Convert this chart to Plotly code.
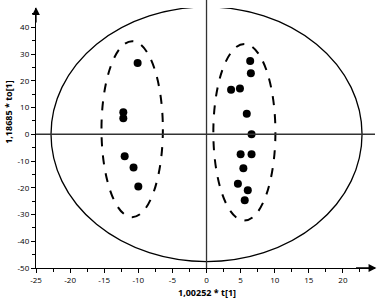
import plotly.graph_objects as go

# Scores
left_x = [-10.1, -12.2, -12.2, -12.0, -10.7, -10.0]
left_y = [26.6, 8.2, 6.0, -8.2, -12.4, -19.5]
right_x = [6.4, 6.5, 3.6, 4.9, 5.9, 6.6, 5.0, 6.6, 5.4, 4.6, 6.05, 5.6]
right_y = [27.4, 22.8, 16.6, 17.1, 7.7, 0.0, -7.5, -7.5, -12.7, -18.5, -20.9, -24.7]

# Ellipses: (cx, cy, a, b)
hotelling = (0.0, 0.0, 22.8, 47.6)
group_ellipses = [(-10.9, 1.9, 4.5, 32.9), (5.55, 0.75, 4.55, 33.0)]

x_ticks = [-25, -20, -15, -10, -5, 0, 5, 10, 15, 20]
y_ticks = [-50, -40, -30, -20, -10, 0, 10, 20, 30, 40]
x_title = "1,00252 * t[1]"
y_title = "1,18685 * to[1]"

XR = [-25, 24.7]
YR = [-50, 47.2]

fig = go.Figure()
fig.add_trace(go.Scatter(x=left_x + right_x, y=left_y + right_y, mode="markers",
                         marker=dict(color="black", size=8), showlegend=False,
                         hoverinfo="skip"))

shapes = []
cx, cy, a, b = hotelling
shapes.append(dict(type="circle", xref="x", yref="y", x0=cx - a, x1=cx + a, y0=cy - b, y1=cy + b,
                   line=dict(color="black", width=1.3)))
for cx, cy, a, b in group_ellipses:
    shapes.append(dict(type="circle", xref="x", yref="y", x0=cx - a, x1=cx + a, y0=cy - b, y1=cy + b,
                       line=dict(color="black", width=2, dash="dash")))
# zero lines
shapes.append(dict(type="line", xref="x", yref="y", x0=XR[0], x1=XR[1], y0=0, y1=0,
                   line=dict(color="#333", width=1.3)))
shapes.append(dict(type="line", xref="x", yref="paper", x0=0, x1=0, y0=0, y1=1.04,
                   line=dict(color="#333", width=1.3)))

annotations = [
    # axis arrows
    dict(x=XR[1] + 0.2, y=YR[0], ax=XR[1] - 3, ay=YR[0], xref="x", yref="y", axref="x", ayref="y",
         showarrow=True, arrowhead=2, arrowsize=1.2, arrowwidth=1.3, arrowcolor="black", text=""),
    dict(x=XR[0], y=YR[1] + 0.3, ax=XR[0], ay=YR[1] - 6, xref="x", yref="y", axref="x", ayref="y",
         showarrow=True, arrowhead=2, arrowsize=1.2, arrowwidth=1.3, arrowcolor="black", text=""),
    dict(text=f"<b>{x_title}</b>", x=0, y=-0.096, xref="x", yref="paper", showarrow=False,
         xanchor="center", yanchor="middle", font=dict(size=9, color="black", family="Open Sans")),
    dict(text=f"<b>{y_title}</b>", x=-0.083, y=0.6, xref="paper", yref="paper", showarrow=False,
         textangle=-90, xanchor="center", yanchor="middle",
         font=dict(size=9, color="black", family="Open Sans")),
]

fig.update_layout(
    width=378, height=300,
    margin=dict(l=36, r=3, t=8, b=32, autoexpand=False),
    paper_bgcolor="white", plot_bgcolor="white",
    shapes=shapes, annotations=annotations,
    xaxis=dict(range=XR, showgrid=False, zeroline=False, showline=True, linecolor="black", linewidth=1.3,
               automargin=False,
               ticks="outside", ticklen=4, tickwidth=1, tickcolor="black",
               tickvals=x_ticks, ticktext=[str(v) for v in x_ticks],
               minor=dict(ticks="outside", ticklen=2.5, tickwidth=1, tickcolor="black", dtick=2.5, tick0=0),
               tickfont=dict(size=8, color="black", family="Open Sans")),
    yaxis=dict(range=YR, showgrid=False, zeroline=False, showline=True, linecolor="black", linewidth=1.3,
               automargin=False,
               ticks="outside", ticklen=4, tickwidth=1, tickcolor="black",
               tickvals=y_ticks, ticktext=[str(v) for v in y_ticks],
               minor=dict(ticks="outside", ticklen=2.5, tickwidth=1, tickcolor="black", dtick=5, tick0=0),
               tickfont=dict(size=8, color="black", family="Open Sans")),
)

fig.write_html("out.html", config={"displayModeBar": False},
               post_script="document.body.style.margin='0';")
